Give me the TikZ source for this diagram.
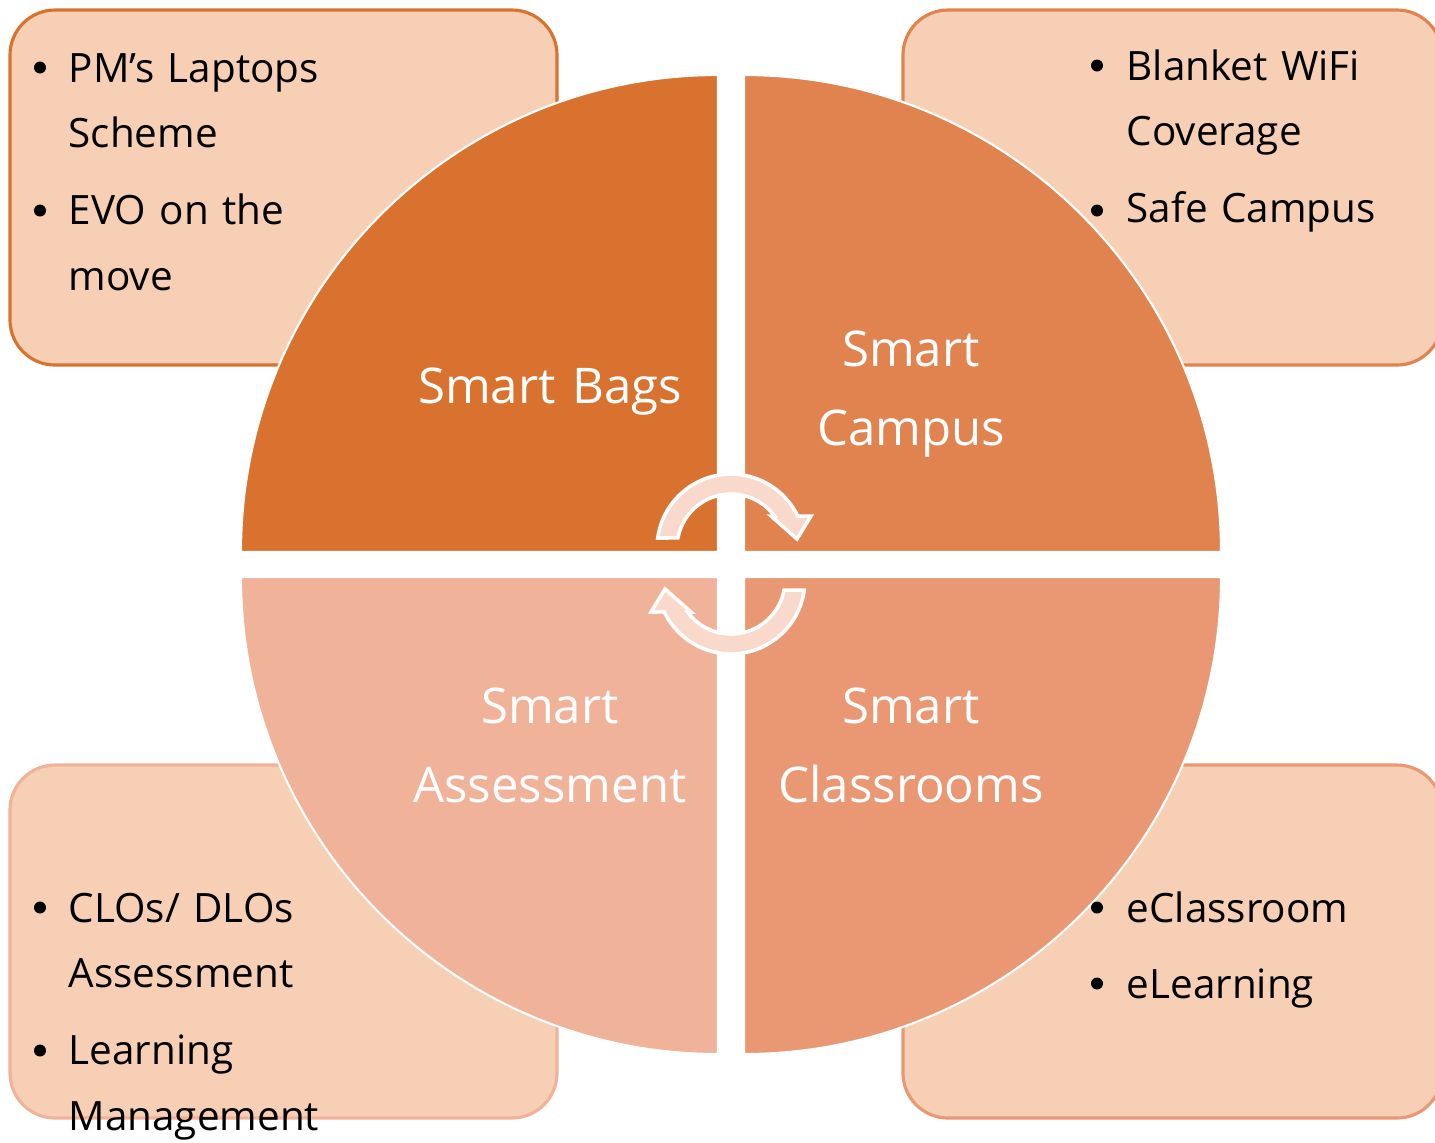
\documentclass[tikz,border=0pt]{standalone}
\usepackage{fontspec}
\setmainfont{Open Sans}
\usepackage{tikz}
\usetikzlibrary{calc}

\definecolor{bagsorange}{HTML}{D8722E}
\definecolor{campusorange}{HTML}{E1834F}
\definecolor{classorange}{HTML}{E99873}
\definecolor{assesspink}{HTML}{F1B29A}
\definecolor{boxpeach}{HTML}{F7CFB4}
\definecolor{arrowpink}{HTML}{F8D9CC}

\tikzset{
  listbox/.style={fill=boxpeach, line width=0.9pt, rounded corners=0.45cm},
  quarter/.style={draw=white, line width=0.6pt},
  cyclearrow/.style={fill=arrowpink, draw=white, line width=1pt},
  biglabel/.style={text=white, font=\fontsize{14}{22.5}\selectfont, align=center, text width=4.2cm, inner sep=0pt, anchor=base},
  listtext/.style={font=\fontsize{11.5}{18.7}\selectfont, align=left, text width=4.6cm, inner sep=0pt, anchor=base west},
  bulletmark/.style={circle, fill=black, inner sep=0pt, minimum size=0.12cm}
}

\begin{document}
\begin{tikzpicture}
            \useasboundingbox (0,0) rectangle (14.35,-11.42);

            % Draw the four list boxes
            \draw[listbox, draw=bagsorange] (0.10,-0.10) rectangle (5.57,-3.65);
            \draw[listbox, draw=campusorange] (9.03,-0.10) rectangle (14.42,-3.65);
            \draw[listbox, draw=assesspink] (0.10,-7.65) rectangle (5.57,-11.18);
            \draw[listbox, draw=classorange] (9.03,-7.65) rectangle (14.42,-11.18);

            % Draw the quarters of the circle
            \filldraw[quarter, fill=bagsorange] (7.18,-5.52) -- (2.41,-5.52) arc (180:90:4.77) -- cycle;
            \filldraw[quarter, fill=campusorange] (7.44,-5.52) -- (7.44,-0.75) arc (90:0:4.77) -- cycle;
            \filldraw[quarter, fill=classorange] (7.44,-5.77) -- (12.21,-5.77) arc (0:-90:4.77) -- cycle;
            \filldraw[quarter, fill=assesspink] (7.18,-5.77) -- (7.18,-10.54) arc (270:180:4.77) -- cycle;

            % Draw the two turning arrows
            \filldraw[cyclearrow] (6.577,-5.38) arc (172.2:25.6:0.74) -- (8.11,-5.16)
              -- (7.97,-5.39) -- (7.71,-5.16) -- (7.745,-5.16) arc (36.3:169.3:0.54) -- cycle;
            \filldraw[cyclearrow] (8.043,-5.90) arc (352.2:205.6:0.74) -- (6.51,-6.12)
              -- (6.65,-5.89) -- (6.91,-6.12) -- (6.875,-6.12) arc (216.3:349.3:0.54) -- cycle;

            % Label the quarters
            \node[biglabel] (bags) at (5.50,-4.03) {Smart Bags};
            \node[biglabel] (campus) at (9.11,-3.66) {Smart\\Campus};
            \node[biglabel] (assess) at (5.50,-7.23) {Smart\\Assessment};
            \node[biglabel] (class) at (9.11,-7.23) {Smart\\Classrooms};

            % Lists in the boxes
            \node[bulletmark] (b1) at (0.40,-0.675) {};
            \node[bulletmark] (b2) at (0.40,-2.105) {};
            \node[listtext] (bagslist) at (0.68,-0.82) {PM’s Laptops\\Scheme\\[3.1pt]EVO on the\\move};

            \node[bulletmark] (c1) at (10.97,-0.655) {};
            \node[bulletmark] (c2) at (10.97,-2.105) {};
            \node[listtext] (campuslist) at (11.26,-0.80) {Blanket WiFi\\Coverage\\[3.1pt]Safe Campus};

            \node[bulletmark] (a1) at (0.40,-9.075) {};
            \node[bulletmark] (a2) at (0.40,-10.505) {};
            \node[listtext] (assesslist) at (0.68,-9.22) {CLOs/ DLOs\\Assessment\\[3.1pt]Learning\\Management};

            \node[bulletmark] (l1) at (10.97,-9.075) {};
            \node[bulletmark] (l2) at (10.97,-9.835) {};
            \node[listtext] (classlist) at (11.26,-9.22) {eClassroom\\[3.1pt]eLearning};
        \end{tikzpicture}
\end{document}
